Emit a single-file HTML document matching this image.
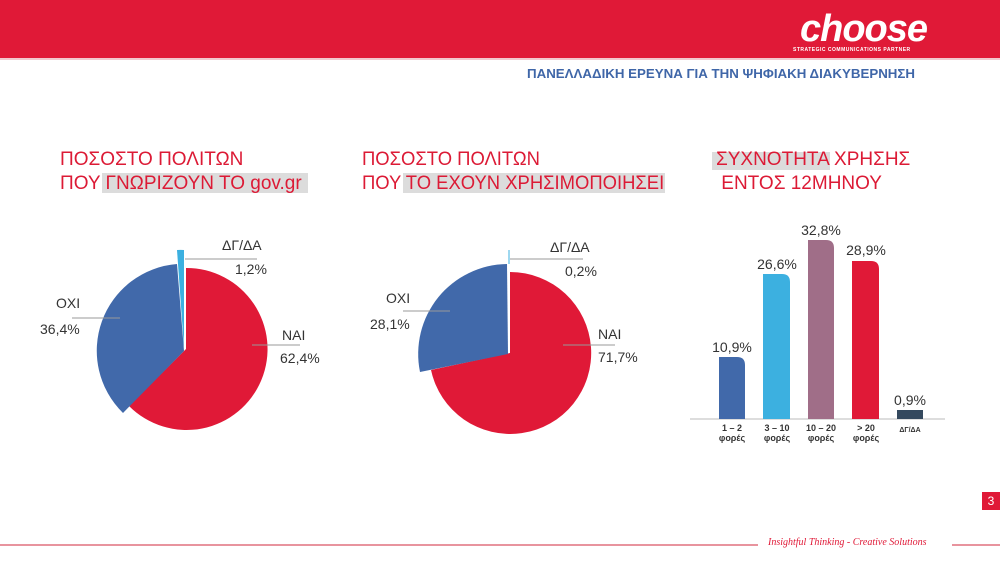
<!DOCTYPE html>
<html><head><meta charset="utf-8"><style>
body{margin:0;width:1000px;height:562px;position:relative;background:#fff;overflow:hidden;font-family:"Liberation Sans",sans-serif}
.a{position:absolute;white-space:nowrap}
.t{color:#dc1a35;font-size:19px;line-height:24px;transform-origin:0 0}
.hl{position:absolute;background:#dcdcdc}
.l{font-size:14px;color:#333;position:absolute;white-space:nowrap}
</style></head><body>
<div class="a" style="left:0;top:0;width:1000px;height:58px;background:#e01937"></div>
<div class="a" style="left:0;top:58px;width:1000px;height:2px;background:#f2c8ce"></div>
<div class="a" style="left:800px;top:8px;color:#fff;font-size:38px;font-weight:bold;font-style:italic;letter-spacing:-1px">choose</div>
<div class="a" style="left:793px;top:47px;color:#fff;font-size:5px;font-weight:bold;letter-spacing:0.5px">STRATEGIC COMMUNICATIONS PARTNER</div>
<div class="a" style="left:527px;top:66px;color:#3f66a8;font-size:13.3px;font-weight:bold">ΠΑΝΕΛΛΑΔΙΚΗ ΕΡΕΥΝΑ ΓΙΑ ΤΗΝ ΨΗΦΙΑΚΗ ΔΙΑΚΥΒΕΡΝΗΣΗ</div>

<div class="hl" style="left:102px;top:173px;width:206px;height:20px"></div>
<div class="hl" style="left:403px;top:173px;width:262px;height:20px"></div>
<div class="hl" style="left:712px;top:152px;width:118px;height:18px"></div>
<div class="a t" style="left:60px;top:148px">ΠΟΣΟΣΤΟ ΠΟΛΙΤΩΝ<br>ΠΟΥ ΓΝΩΡΙΖΟΥΝ ΤΟ gov.gr</div>
<div class="a t" style="left:362px;top:148px;transform:scaleX(0.97)">ΠΟΣΟΣΤΟ ΠΟΛΙΤΩΝ<br>ΠΟΥ ΤΟ ΕΧΟΥΝ ΧΡΗΣΙΜΟΠΟΙΗΣΕΙ</div>
<div class="a t" style="left:716px;top:148px">ΣΥΧΝΟΤΗΤΑ ΧΡΗΣΗΣ<br>&nbsp;ΕΝΤΟΣ 12ΜΗΝΟΥ</div>

<svg class="a" style="left:0;top:0" width="1000" height="562">
<path d="M186,349 L186,268 A81,81 0 1 1 129,406 Z" fill="#e01937"/>
<path d="M184,351 L123,413 A87,87 0 0 1 177,264 Z" fill="#4169aa"/>
<path d="M184,348 L177,250 A98,98 0 0 1 184,250 Z" fill="#3cb0e0"/>
<line x1="185" y1="259" x2="257" y2="259" stroke="#999"/>
<line x1="72" y1="318" x2="120" y2="318" stroke="#999"/>
<line x1="252" y1="345" x2="300" y2="345" stroke="#999"/>
<path d="M510,353 L510,272 A81,81 0 1 1 431,370 Z" fill="#e01937"/>
<path d="M508,354 L420,372 A90,90 0 0 1 507,264 Z" fill="#4169aa"/>
<line x1="509" y1="250" x2="509" y2="264" stroke="#3cb0e0"/>
<line x1="510" y1="259" x2="583" y2="259" stroke="#999"/>
<line x1="403" y1="311" x2="450" y2="311" stroke="#999"/>
<line x1="563" y1="345" x2="615" y2="345" stroke="#999"/>
<line x1="690" y1="419" x2="945" y2="419" stroke="#bbb"/>
<path d="M719,419 V357 H737 Q745,357 745,365 V419 Z" fill="#4169aa"/>
<path d="M763,419 V274 H782 Q790,274 790,282 V419 Z" fill="#3cb0e0"/>
<path d="M808,419 V240 H826 Q834,240 834,248 V419 Z" fill="#a06e88"/>
<path d="M852,419 V261 H871 Q879,261 879,269 V419 Z" fill="#e01937"/>
<rect x="897" y="410" width="26" height="9" fill="#34495e"/>
<g font-family="Liberation Sans,sans-serif" font-size="14" fill="#333" text-anchor="middle">
<text x="732" y="352">10,9%</text><text x="777" y="269">26,6%</text><text x="821" y="235">32,8%</text><text x="866" y="255">28,9%</text><text x="910" y="405">0,9%</text>
</g>
<g font-family="Liberation Sans,sans-serif" font-size="9" font-weight="bold" fill="#333" text-anchor="middle">
<text x="732" y="431">1 – 2</text><text x="732" y="441">φορές</text>
<text x="777" y="431">3 – 10</text><text x="777" y="441">φορές</text>
<text x="821" y="431">10 – 20</text><text x="821" y="441">φορές</text>
<text x="866" y="431">&gt; 20</text><text x="866" y="441">φορές</text>
<text x="910" y="432" font-size="7">ΔΓ/ΔΑ</text>
</g>
<line x1="0" y1="545" x2="758" y2="545" stroke="#e0707f" stroke-width="1.5"/>
<line x1="952" y1="545" x2="1000" y2="545" stroke="#e0707f" stroke-width="1.5"/>
</svg>
<div class="l" style="left:222px;top:237px">ΔΓ/ΔΑ</div>
<div class="l" style="left:235px;top:261px">1,2%</div>
<div class="l" style="left:56px;top:295px">ΟΧΙ</div>
<div class="l" style="left:40px;top:321px">36,4%</div>
<div class="l" style="left:282px;top:327px">ΝΑΙ</div>
<div class="l" style="left:280px;top:350px">62,4%</div>
<div class="l" style="left:550px;top:239px">ΔΓ/ΔΑ</div>
<div class="l" style="left:565px;top:263px">0,2%</div>
<div class="l" style="left:386px;top:290px">ΟΧΙ</div>
<div class="l" style="left:370px;top:316px">28,1%</div>
<div class="l" style="left:598px;top:326px">ΝΑΙ</div>
<div class="l" style="left:598px;top:349px">71,7%</div>
<div class="a" style="left:982px;top:492px;width:18px;height:18px;background:#e01937;color:#fff;font-size:12px;text-align:center;line-height:18px">3</div>
<div class="a" style="left:768px;top:537px;color:#e01937;font-size:10px;font-style:italic;font-family:'Liberation Serif',serif">Insightful Thinking - Creative Solutions</div>
</body></html>
